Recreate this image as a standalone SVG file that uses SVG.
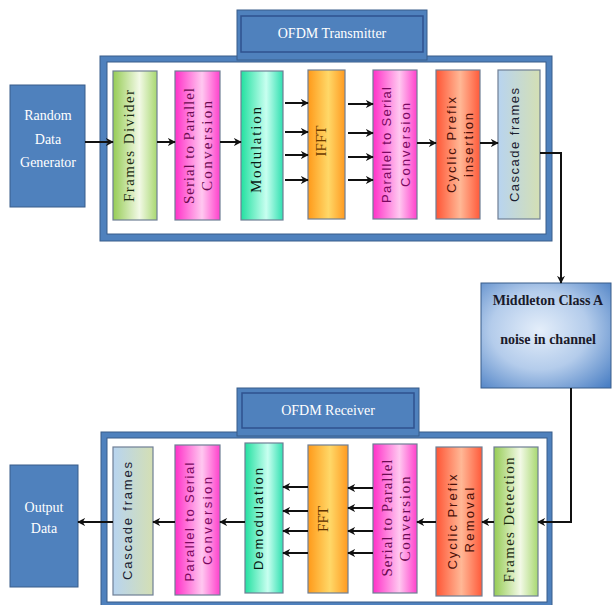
<svg xmlns="http://www.w3.org/2000/svg" width="613" height="605" viewBox="0 0 613 605">
<defs>
<style>
.frame{fill:#4F81BD;stroke:#385D8A;stroke-width:1}
.inner{fill:#ffffff;stroke:#385D8A;stroke-width:1}
.tab{fill:#4F81BD;stroke:#2F528F;stroke-width:1.5}
.blk{stroke:#6f7f95;stroke-width:1.2}
.srcbox{fill:#4F81BD;stroke:#385D8A;stroke-width:1}
.wt{font-family:"Liberation Serif","Times New Roman",serif;fill:#ffffff;font-size:14px;text-anchor:middle}
.bt{font-family:"Liberation Serif","Times New Roman",serif;font-size:15px;text-anchor:middle;dominant-baseline:central}
.bs{font-family:"Liberation Sans",Arial,sans-serif;font-size:13px;text-anchor:middle;dominant-baseline:central}
.ct{font-family:"Liberation Serif","Times New Roman",serif;font-size:14px;font-weight:bold;fill:#1a1a2a;text-anchor:middle}
.ln{fill:none;stroke:#111;stroke-width:2}
.ar{fill:none;stroke:#111;stroke-width:2;marker-end:url(#ah)}
</style>
<marker id="ah" viewBox="0 0 10 10" refX="9" refY="5" markerWidth="8" markerHeight="8" markerUnits="userSpaceOnUse" orient="auto">
<path d="M0,0 L10,5 L0,10 L3,5 z" fill="#111"/>
</marker>
<linearGradient id="gGreen" x1="0" x2="1" y1="0" y2="0">
<stop offset="0" stop-color="#96cc55"/><stop offset="0.6" stop-color="#f2f9e6"/><stop offset="1" stop-color="#a8d870"/>
</linearGradient>
<linearGradient id="gMag" x1="0" x2="1" y1="0" y2="0">
<stop offset="0" stop-color="#ff30c8"/><stop offset="0.6" stop-color="#ffc8f0"/><stop offset="1" stop-color="#ff40cc"/>
</linearGradient>
<linearGradient id="gTeal" x1="0" x2="1" y1="0" y2="0">
<stop offset="0" stop-color="#22e0a0"/><stop offset="0.6" stop-color="#c8fff0"/><stop offset="1" stop-color="#30e0b0"/>
</linearGradient>
<linearGradient id="gOrange" x1="0" x2="1" y1="0" y2="0">
<stop offset="0" stop-color="#ff9a1a"/><stop offset="0.55" stop-color="#ffd868"/><stop offset="1" stop-color="#ff9a20"/>
</linearGradient>
<linearGradient id="gRed" x1="0" x2="1" y1="0" y2="0">
<stop offset="0" stop-color="#ff5535"/><stop offset="0.55" stop-color="#ffb896"/><stop offset="1" stop-color="#ff5a3a"/>
</linearGradient>
<linearGradient id="gCasc" x1="0" x2="1" y1="0" y2="0">
<stop offset="0" stop-color="#b8d4f0"/><stop offset="1" stop-color="#d4dfb4"/>
</linearGradient>
<radialGradient id="gChan" cx="0.45" cy="0.45" r="0.75">
<stop offset="0" stop-color="#e4eefa"/><stop offset="0.5" stop-color="#b4cceb"/><stop offset="1" stop-color="#4a7fc4"/>
</radialGradient>
</defs>

<!-- Transmitter frame -->
<g id="tx-frame">
<rect class="frame" x="100" y="56" width="452" height="185"/>
<rect class="inner" x="107" y="62" width="439" height="172"/>
</g>
<g id="tx-title">
<rect class="frame" x="237" y="10" width="190" height="50"/>
<rect class="tab" x="241" y="16" width="182" height="36"/>
<text class="wt" x="332" y="38">OFDM Transmitter</text>
</g>

<!-- Receiver frame -->
<g id="rx-frame">
<rect class="frame" x="101" y="432" width="451" height="180"/>
<rect class="inner" x="107" y="438" width="440" height="164"/>
</g>
<g id="rx-title">
<rect class="frame" x="237" y="388" width="182" height="48"/>
<rect class="tab" x="242" y="393" width="172" height="35"/>
<text class="wt" x="328" y="415">OFDM Receiver</text>
</g>

<!-- Source / sink -->
<g id="random-data-generator">
<rect class="srcbox" x="10" y="85" width="75" height="122"/>
<text class="wt" x="48" y="120">Random</text>
<text class="wt" x="48" y="144">Data</text>
<text class="wt" x="48" y="167">Generator</text>
</g>
<g id="output-data">
<rect class="srcbox" x="10" y="465" width="68" height="122"/>
<text class="wt" x="44" y="512">Output</text>
<text class="wt" x="44" y="533">Data</text>
</g>

<!-- Channel -->
<g id="channel">
<rect x="481" y="283" width="130" height="105" fill="url(#gChan)" stroke="#385D8A" stroke-width="1"/>
<text class="ct" x="548" y="305">Middleton Class A</text>
<text class="ct" x="548" y="344">noise in channel</text>
</g>

<!-- Transmitter blocks -->
<g id="tx-frames-divider">
<rect class="blk" x="113" y="71" width="44" height="149" fill="url(#gGreen)"/>
<text class="bt" transform="translate(129,146) rotate(-90)" fill="#1a2a10" textLength="112" lengthAdjust="spacing">Frames Divider</text>
</g>
<g id="tx-serial-to-parallel">
<rect class="blk" x="175" y="71" width="45" height="149" fill="url(#gMag)"/>
<text class="bt" transform="translate(189,146) rotate(-90)" fill="#6a0a50" textLength="116" lengthAdjust="spacing">Serial to Parallel</text>
<text class="bt" transform="translate(207,146) rotate(-90)" fill="#6a0a50" textLength="90" lengthAdjust="spacing">Conversion</text>
</g>
<g id="tx-modulation">
<rect class="blk" x="241" y="71" width="42" height="149" fill="url(#gTeal)"/>
<text class="bt" transform="translate(256,150) rotate(-90)" fill="#0a1a14" textLength="86" lengthAdjust="spacing">Modulation</text>
</g>
<g id="tx-ifft">
<rect class="blk" x="308" y="70" width="37" height="149" fill="url(#gOrange)"/>
<text class="bt" transform="translate(321,141) rotate(-90)" fill="#6a3a00" font-size="13">IFFT</text>
</g>
<g id="tx-parallel-to-serial">
<rect class="blk" x="373" y="70" width="44" height="149" fill="url(#gMag)"/>
<text class="bs" transform="translate(386,145) rotate(-90)" fill="#7a0860" textLength="116" lengthAdjust="spacing">Parallel to Serial</text>
<text class="bs" transform="translate(405,145) rotate(-90)" fill="#7a0860" textLength="84" lengthAdjust="spacing">Conversion</text>
</g>
<g id="tx-cyclic-prefix-insertion">
<rect class="blk" x="436" y="70" width="44" height="149" fill="url(#gRed)"/>
<text class="bs" transform="translate(451,145) rotate(-90)" fill="#4a1008" textLength="96" lengthAdjust="spacing">Cyclic Prefix</text>
<text class="bs" transform="translate(468,145) rotate(-90)" fill="#4a1008" textLength="64" lengthAdjust="spacing">insertion</text>
</g>
<g id="tx-cascade-frames">
<rect class="blk" x="498" y="70" width="42" height="149" fill="url(#gCasc)"/>
<text class="bs" transform="translate(514,145) rotate(-90)" fill="#1a2030" textLength="114" lengthAdjust="spacing">Cascade frames</text>
</g>

<!-- Receiver blocks -->
<g id="rx-cascade-frames">
<rect class="blk" x="113" y="447" width="40" height="148" fill="url(#gCasc)"/>
<text class="bs" transform="translate(127,521) rotate(-90)" fill="#1a2030" textLength="118" lengthAdjust="spacing">Cascade frames</text>
</g>
<g id="rx-parallel-to-serial">
<rect class="blk" x="175" y="445" width="45" height="150" fill="url(#gMag)"/>
<text class="bs" transform="translate(189,522) rotate(-90)" fill="#7a0860" textLength="119" lengthAdjust="spacing">Parallel to Serial</text>
<text class="bs" transform="translate(207,521) rotate(-90)" fill="#7a0860" textLength="88" lengthAdjust="spacing">Conversion</text>
</g>
<g id="rx-demodulation">
<rect class="blk" x="245" y="443" width="38" height="150" fill="url(#gTeal)"/>
<text class="bs" transform="translate(258,519) rotate(-90)" fill="#0a1a14" textLength="102" lengthAdjust="spacing">Demodulation</text>
</g>
<g id="rx-fft">
<rect class="blk" x="308" y="445" width="40" height="148" fill="url(#gOrange)"/>
<text class="bt" transform="translate(323,519) rotate(-90)" fill="#5a3000" font-size="13">FFT</text>
</g>
<g id="rx-serial-to-parallel">
<rect class="blk" x="373" y="444" width="44" height="149" fill="url(#gMag)"/>
<text class="bt" transform="translate(387,518) rotate(-90)" fill="#6a0a50" textLength="117" lengthAdjust="spacing">Serial to Parallel</text>
<text class="bt" transform="translate(405,519) rotate(-90)" fill="#6a0a50" textLength="85" lengthAdjust="spacing">Conversion</text>
</g>
<g id="rx-cyclic-prefix-removal">
<rect class="blk" x="436" y="447" width="46" height="149" fill="url(#gRed)"/>
<text class="bs" transform="translate(452,522) rotate(-90)" fill="#4a1008" textLength="95" lengthAdjust="spacing">Cyclic Prefix</text>
<text class="bs" transform="translate(469,520) rotate(-90)" fill="#4a1008" textLength="65" lengthAdjust="spacing">Removal</text>
</g>
<g id="rx-frames-detection">
<rect class="blk" x="494" y="447" width="44" height="149" fill="url(#gGreen)"/>
<text class="bt" transform="translate(509,520) rotate(-90)" fill="#1a2a10" textLength="125" lengthAdjust="spacing">Frames Detection</text>
</g>

<!-- Connectors -->
<g id="connectors">
<line class="ar" x1="85" y1="142" x2="113" y2="142"/>
<line class="ar" x1="157" y1="142" x2="175" y2="142"/>
<line class="ar" x1="220" y1="142" x2="241" y2="142"/>
<line class="ar" x1="285" y1="103" x2="308" y2="103"/>
<line class="ar" x1="285" y1="132" x2="308" y2="132"/>
<line class="ar" x1="285" y1="155" x2="308" y2="155"/>
<line class="ar" x1="285" y1="180" x2="308" y2="180"/>
<line class="ar" x1="348" y1="104" x2="373" y2="104"/>
<line class="ar" x1="348" y1="133" x2="373" y2="133"/>
<line class="ar" x1="348" y1="157" x2="373" y2="157"/>
<line class="ar" x1="348" y1="180" x2="373" y2="180"/>
<line class="ar" x1="417" y1="143" x2="436" y2="143"/>
<line class="ar" x1="480" y1="143" x2="498" y2="143"/>
<polyline class="ar" points="540,153 561,153 561,283"/>
<polyline class="ar" points="571,388 571,522 538,522"/>
<line class="ar" x1="494" y1="522" x2="482" y2="522"/>
<line class="ar" x1="436" y1="522" x2="417" y2="522"/>
<line class="ar" x1="373" y1="488" x2="348" y2="488"/>
<line class="ar" x1="373" y1="508" x2="348" y2="508"/>
<line class="ar" x1="373" y1="531" x2="348" y2="531"/>
<line class="ar" x1="373" y1="553" x2="348" y2="553"/>
<line class="ar" x1="308" y1="487" x2="283" y2="487"/>
<line class="ar" x1="308" y1="511" x2="283" y2="511"/>
<line class="ar" x1="308" y1="531" x2="283" y2="531"/>
<line class="ar" x1="308" y1="553" x2="283" y2="553"/>
<line class="ar" x1="245" y1="522" x2="220" y2="522"/>
<line class="ar" x1="175" y1="522" x2="153" y2="522"/>
<line class="ar" x1="113" y1="522" x2="78" y2="522"/>
</g>
</svg>
